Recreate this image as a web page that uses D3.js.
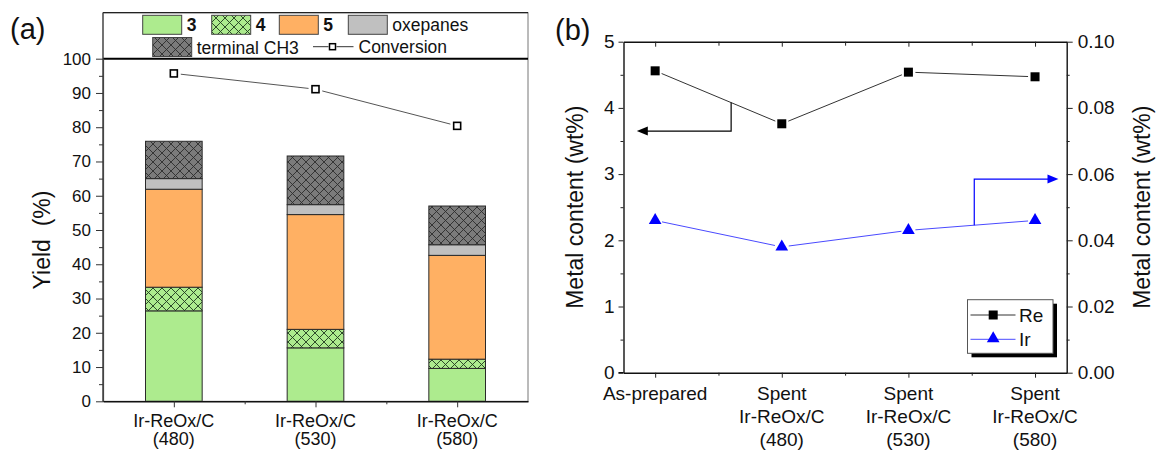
<!DOCTYPE html>
<html>
<head>
<meta charset="utf-8">
<script src="https://cdn.jsdelivr.net/npm/d3@7"></script>
<style>
  body { margin: 0; background: #fff; }
  svg { font-family: "Liberation Sans", Arial, sans-serif; display: block; }
</style>
</head>
<body>
<svg id="chart" width="1156" height="451"></svg>
<script>
// ---------- Panel (a): product yields per catalyst ----------
const catalysts = ["Ir-ReOx/C\n(480)", "Ir-ReOx/C\n(530)", "Ir-ReOx/C\n(580)"];
const yield3 = [26.4, 15.6, 9.6];
const yield4 = [6.9, 5.4, 2.7];
const yield5 = [28.6, 33.5, 30.3];
const yieldOxepanes = [3.1, 2.9, 3.1];
const yieldTerminalCH3 = [10.9, 14.2, 11.3];
const conversion = [95.7, 91.1, 80.4];
const yieldTicks = [0, 10, 20, 30, 40, 50, 60, 70, 80, 90, 100];
const yieldMinorTicks = [5, 15, 25, 35, 45, 55, 65, 75, 85, 95];

// ---------- Panel (b): metal content of catalysts ----------
const samples = ["As-prepared", "Spent\nIr-ReOx/C\n(480)", "Spent\nIr-ReOx/C\n(530)", "Spent\nIr-ReOx/C\n(580)"];
const reContent = [4.56, 3.76, 4.54, 4.47];
const irContent = [0.046, 0.038, 0.043, 0.046];
const reTicks = [0, 1, 2, 3, 4, 5];
const reMinorTicks = [0.5, 1.5, 2.5, 3.5, 4.5];
const irTicks = [0, 0.02, 0.04, 0.06, 0.08, 0.10];
const irMinorTicks = [0.01, 0.03, 0.05, 0.07, 0.09];

const svg = d3.select("#chart");
const defs = svg.append("defs");

function crossHatch(id, bg, lineColor, size) {
  const p = defs.append("pattern")
    .attr("id", id).attr("patternUnits", "userSpaceOnUse")
    .attr("width", size).attr("height", size);
  p.append("rect").attr("width", size).attr("height", size).attr("fill", bg);
  p.append("path")
    .attr("d", `M0,0L${size},${size}M${size},0L0,${size}`)
    .attr("stroke", lineColor).attr("stroke-width", 0.9).attr("fill", "none");
}
crossHatch("hatch4", "#ADEB8E", "#1f3a1f", 9);
crossHatch("hatchCH3", "#7b7b7b", "#2c2c2c", 9);

const seriesKeys = ["y3", "y4", "y5", "oxe", "ch3"];
const seriesFill = {
  y3: "#ADEB8E",
  y4: "url(#hatch4)",
  y5: "#FFB063",
  oxe: "#C0C0C0",
  ch3: "url(#hatchCH3)"
};

// =============== Panel (a) ===============
const ga = svg.append("g");
const xA = d3.scaleLinear().domain([0.5, 3.5]).range([103, 528]);
const yA = d3.scaleLinear().domain([0, 100]).range([401.3, 58.7]);
const frameTopA = 12.7;

const rows = catalysts.map((c, i) => ({
  idx: i + 1,
  y3: yield3[i], y4: yield4[i], y5: yield5[i],
  oxe: yieldOxepanes[i], ch3: yieldTerminalCH3[i]
}));
const stacked = d3.stack().keys(seriesKeys)(rows);
const barW = xA(1.4) - xA(1);

stacked.forEach(layer => {
  ga.append("g").selectAll("rect").data(layer).join("rect")
    .attr("x", d => xA(d.data.idx) - barW / 2)
    .attr("width", barW)
    .attr("y", d => yA(d[1]))
    .attr("height", d => yA(d[0]) - yA(d[1]))
    .attr("fill", seriesFill[layer.key])
    .attr("stroke", "#2a2a2a")
    .attr("stroke-width", 1);
});

// conversion line, with gaps around markers
const convPts = conversion.map((v, i) => [xA(i + 1), yA(v)]);
for (let i = 0; i < convPts.length - 1; i++) {
  const [x1, y1] = convPts[i], [x2, y2] = convPts[i + 1];
  const len = Math.hypot(x2 - x1, y2 - y1), gap = 7;
  const ux = (x2 - x1) / len, uy = (y2 - y1) / len;
  ga.append("line")
    .attr("x1", x1 + ux * gap).attr("y1", y1 + uy * gap)
    .attr("x2", x2 - ux * gap).attr("y2", y2 - uy * gap)
    .attr("stroke", "#555").attr("stroke-width", 1);
}
ga.append("g").selectAll("rect").data(convPts).join("rect")
  .attr("x", d => d[0] - 3.5).attr("y", d => d[1] - 3.5)
  .attr("width", 7).attr("height", 7)
  .attr("fill", "#fff").attr("stroke", "#000").attr("stroke-width", 1.6);

// frame and legend box
ga.append("rect")
  .attr("x", xA.range()[0]).attr("y", frameTopA)
  .attr("width", xA.range()[1] - xA.range()[0])
  .attr("height", yA(0) - frameTopA)
  .attr("fill", "none").attr("stroke", "#777").attr("stroke-width", 1);
ga.append("line")
  .attr("x1", xA.range()[0]).attr("x2", xA.range()[1])
  .attr("y1", frameTopA).attr("y2", frameTopA)
  .attr("stroke", "#222").attr("stroke-width", 1.2);
ga.append("line")
  .attr("x1", xA.range()[0]).attr("x2", xA.range()[1])
  .attr("y1", yA(100)).attr("y2", yA(100))
  .attr("stroke", "#000").attr("stroke-width", 2);
ga.append("line")
  .attr("x1", xA.range()[0]).attr("x2", xA.range()[0])
  .attr("y1", frameTopA).attr("y2", yA(0))
  .attr("stroke", "#444").attr("stroke-width", 1.2);

// y axis (a)
const yAxisA = ga.append("g").attr("transform", `translate(${xA.range()[0]},0)`)
  .call(d3.axisLeft(yA).tickValues(yieldTicks).tickSize(7).tickSizeOuter(0).tickPadding(5));
yAxisA.select(".domain").attr("stroke", "#444").attr("stroke-width", 1.2);
yAxisA.selectAll(".tick line").attr("stroke", "#333");
yAxisA.selectAll(".tick text").attr("font-size", 17).attr("fill", "#111")
  .attr("font-family", "Liberation Sans, Arial, sans-serif");
const yMinorA = ga.append("g").attr("transform", `translate(${xA.range()[0]},0)`)
  .call(d3.axisLeft(yA).tickValues(yieldMinorTicks).tickSize(4).tickFormat(""));
yMinorA.select(".domain").remove();
yMinorA.selectAll(".tick line").attr("stroke", "#333");

// x axis (a)
const xAxisA = ga.append("g").attr("transform", `translate(0,${yA(0)})`)
  .call(d3.axisBottom(xA).tickValues([1, 2, 3]).tickSize(6).tickSizeOuter(0).tickFormat(""));
xAxisA.select(".domain").attr("stroke", "#111").attr("stroke-width", 1.6);
xAxisA.selectAll(".tick line").attr("stroke", "#333");
const xMinorA = ga.append("g").attr("transform", `translate(0,${yA(0)})`)
  .call(d3.axisBottom(xA).tickValues([1.5, 2.5]).tickSize(3).tickFormat(""));
xMinorA.select(".domain").remove();
xMinorA.selectAll(".tick line").attr("stroke", "#333");

catalysts.forEach((c, i) => {
  const t = ga.append("text").attr("text-anchor", "middle")
    .attr("font-size", 18).attr("fill", "#111");
  c.split("\n").forEach((line, j) => {
    t.append("tspan").attr("x", xA(i + 1)).attr("y", 426.5 + j * 18.5).text(line);
  });
});

ga.append("text")
  .attr("transform", `translate(50,${(yA(0) + yA(100)) / 2 + 10}) rotate(-90)`)
  .attr("text-anchor", "middle").attr("font-size", 23).attr("fill", "#111")
  .text("Yield\u00a0\u00a0(%)");

ga.append("text").attr("x", 10).attr("y", 39).attr("font-size", 29).attr("fill", "#111").text("(a)");

// legend (a)
const legendA = ga.append("g");
const legItems = [
  { key: "y3", label: "3", bold: true, x: 142.7, y: 15.3 },
  { key: "y4", label: "4", bold: true, x: 211.7, y: 15.3 },
  { key: "y5", label: "5", bold: true, x: 279.3, y: 15.3 },
  { key: "oxe", label: "oxepanes", bold: false, x: 348.3, y: 15.3 },
  { key: "ch3", label: "terminal CH3", bold: false, x: 152.7, y: 37.5 }
];
legItems.forEach(it => {
  legendA.append("rect")
    .attr("x", it.x).attr("y", it.y).attr("width", 39).attr("height", 19)
    .attr("fill", seriesFill[it.key]).attr("stroke", "#444").attr("stroke-width", 1);
  legendA.append("text")
    .attr("x", it.x + 44).attr("y", it.y + 16)
    .attr("font-size", 17.5).attr("font-weight", it.bold ? "bold" : "normal")
    .attr("fill", "#111").text(it.label);
});
legendA.append("line").attr("x1", 313).attr("x2", 328.5).attr("y1", 46.7).attr("y2", 46.7)
  .attr("stroke", "#333").attr("stroke-width", 1);
legendA.append("line").attr("x1", 336.5).attr("x2", 353.5).attr("y1", 46.7).attr("y2", 46.7)
  .attr("stroke", "#333").attr("stroke-width", 1);
legendA.append("rect").attr("x", 329.5).attr("y", 43.7).attr("width", 6).attr("height", 6)
  .attr("fill", "#fff").attr("stroke", "#000").attr("stroke-width", 1.5);
legendA.append("text").attr("x", 358.5).attr("y", 53).attr("font-size", 17.5)
  .attr("fill", "#111").text("Conversion");

// =============== Panel (b) ===============
const gb = svg.append("g");
const xB = d3.scaleLinear().domain([0.75, 4.25]).range([623.5, 1066.7]);
const yL = d3.scaleLinear().domain([0, 5]).range([372.7, 41.7]);
const yR = d3.scaleLinear().domain([0, 0.1]).range([372.7, 41.7]);

function styleAxis(g, fs) {
  g.select(".domain").attr("stroke", "#111").attr("stroke-width", 1.4);
  g.selectAll(".tick line").attr("stroke", "#222");
  g.selectAll(".tick text").attr("font-size", fs).attr("fill", "#111")
    .attr("font-family", "Liberation Sans, Arial, sans-serif");
}
function minorAxis(g) {
  g.select(".domain").remove();
  g.selectAll(".tick line").attr("stroke", "#222");
}

const leftB = gb.append("g").attr("transform", `translate(${xB.range()[0]},0)`)
  .call(d3.axisLeft(yL).tickValues(reTicks).tickSize(5).tickSizeOuter(0).tickPadding(4)
    .tickFormat(d3.format("d")));
styleAxis(leftB, 19);
leftB.selectAll(".tick text").attr("dy", "0.3em");
minorAxis(gb.append("g").attr("transform", `translate(${xB.range()[0]},0)`)
  .call(d3.axisLeft(yL).tickValues(reMinorTicks).tickSize(3).tickFormat("")));

const rightB = gb.append("g").attr("transform", `translate(${xB.range()[1]},0)`)
  .call(d3.axisRight(yR).tickValues(irTicks).tickSize(6).tickSizeOuter(0).tickPadding(5)
    .tickFormat(d3.format(".2f")));
styleAxis(rightB, 19);
minorAxis(gb.append("g").attr("transform", `translate(${xB.range()[1]},0)`)
  .call(d3.axisRight(yR).tickValues(irMinorTicks).tickSize(3).tickFormat("")));

const bottomB = gb.append("g").attr("transform", `translate(0,${yL(0)})`)
  .call(d3.axisBottom(xB).tickValues([1, 2, 3, 4]).tickSize(5).tickSizeOuter(0).tickFormat(""));
styleAxis(bottomB, 19);
minorAxis(gb.append("g").attr("transform", `translate(0,${yL(0)})`)
  .call(d3.axisBottom(xB).tickValues([1.5, 2.5, 3.5]).tickSize(3).tickFormat("")));
gb.append("line").attr("x1", xB.range()[0] - 5).attr("x2", xB.range()[0])
  .attr("y1", yL(0)).attr("y2", yL(0)).attr("stroke", "#111").attr("stroke-width", 1.4);

const topB = gb.append("g").attr("transform", `translate(0,${yL(5)})`)
  .call(d3.axisTop(xB).tickValues([1, 2, 3, 4]).tickSize(-5).tickSizeOuter(0).tickFormat(""));
styleAxis(topB, 19);
minorAxis(gb.append("g").attr("transform", `translate(0,${yL(5)})`)
  .call(d3.axisTop(xB).tickValues([1.5, 2.5, 3.5]).tickSize(-4).tickFormat("")));

samples.forEach((s, i) => {
  const t = gb.append("text").attr("text-anchor", "middle")
    .attr("font-size", 19).attr("fill", "#111");
  s.split("\n").forEach((line, j) => {
    t.append("tspan").attr("x", xB(i + 1)).attr("y", 400 + j * 23).text(line);
  });
});

gb.append("text")
  .attr("transform", `translate(583,${(yL(0) + yL(5)) / 2}) rotate(-90)`)
  .attr("text-anchor", "middle").attr("font-size", 23).attr("fill", "#111")
  .text("Metal content (wt%)");
gb.append("text")
  .attr("transform", `translate(1150,${(yL(0) + yL(5)) / 2}) rotate(-90)`)
  .attr("text-anchor", "middle").attr("font-size", 23).attr("fill", "#111")
  .text("Metal content (wt%)");

gb.append("text").attr("x", 555).attr("y", 40).attr("font-size", 29).attr("fill", "#111").text("(b)");

// series lines with small gaps at markers
function gappedLine(pts, color, gap) {
  for (let i = 0; i < pts.length - 1; i++) {
    const [x1, y1] = pts[i], [x2, y2] = pts[i + 1];
    const len = Math.hypot(x2 - x1, y2 - y1);
    const ux = (x2 - x1) / len, uy = (y2 - y1) / len;
    gb.append("line")
      .attr("x1", x1 + ux * gap).attr("y1", y1 + uy * gap)
      .attr("x2", x2 - ux * gap).attr("y2", y2 - uy * gap)
      .attr("stroke", color).attr("stroke-width", 1);
  }
}
const rePts = reContent.map((v, i) => [xB(i + 1), yL(v)]);
const irPts = irContent.map((v, i) => [xB(i + 1), yR(v)]);
gappedLine(rePts, "#333", 7);
gappedLine(irPts, "#4a4aff", 7);

gb.append("g").selectAll("rect").data(rePts).join("rect")
  .attr("x", d => d[0] - 4.5).attr("y", d => d[1] - 4.5)
  .attr("width", 9).attr("height", 9).attr("fill", "#000");
const tri = d3.symbol().type(d3.symbolTriangle).size(70);
gb.append("g").selectAll("path").data(irPts).join("path")
  .attr("d", tri).attr("transform", d => `translate(${d[0]},${d[1]})`)
  .attr("fill", "#0000ff");

// axis indicator arrows
function interp(pts, xPix) {
  for (let i = 0; i < pts.length - 1; i++) {
    if (xPix >= pts[i][0] && xPix <= pts[i + 1][0]) {
      const t = (xPix - pts[i][0]) / (pts[i + 1][0] - pts[i][0]);
      return pts[i][1] + t * (pts[i + 1][1] - pts[i][1]);
    }
  }
  return pts[0][1];
}
function axisArrow(pts, xStart, yTurn, xTip, color) {
  const x0 = xB(xStart), y0 = interp(pts, x0), y1 = yTurn, x1 = xB(xTip);
  const dir = Math.sign(x1 - x0);
  gb.append("path")
    .attr("d", `M${x0},${y0}V${y1}H${x1 - dir * 9}`)
    .attr("fill", "none").attr("stroke", color).attr("stroke-width", 1.2);
  gb.append("path")
    .attr("d", `M${x1},${y1}L${x1 - dir * 11},${y1 - 4.5}L${x1 - dir * 11},${y1 + 4.5}Z`)
    .attr("fill", color);
}
axisArrow(rePts, 1.6, yL(3.65), 0.855, "#000");
axisArrow(irPts, 3.52, yR(0.0585), 4.185, "#0000ff");

// legend (b)
const legB = gb.append("g");
legB.append("rect").attr("x", 971.5).attr("y", 303.7).attr("width", 85.5).attr("height", 53.6).attr("fill", "#000");
legB.append("rect").attr("x", 967.5).attr("y", 299.7).attr("width", 85.5).attr("height", 53.6)
  .attr("fill", "#fff").attr("stroke", "#555").attr("stroke-width", 1);
legB.append("line").attr("x1", 970.5).attr("x2", 1015.5).attr("y1", 315).attr("y2", 315)
  .attr("stroke", "#333").attr("stroke-width", 1);
legB.append("rect").attr("x", 988.7).attr("y", 310.5).attr("width", 9).attr("height", 9).attr("fill", "#000");
legB.append("text").attr("x", 1019).attr("y", 322).attr("font-size", 19).attr("fill", "#111").text("Re");
legB.append("line").attr("x1", 970.5).attr("x2", 1015.5).attr("y1", 339.3).attr("y2", 339.3)
  .attr("stroke", "#4a4aff").attr("stroke-width", 1);
legB.append("path").attr("d", tri).attr("transform", "translate(993.2,338.5)").attr("fill", "#0000ff");
legB.append("text").attr("x", 1019).attr("y", 346.3).attr("font-size", 19).attr("fill", "#111").text("Ir");
</script>
</body>
</html>
